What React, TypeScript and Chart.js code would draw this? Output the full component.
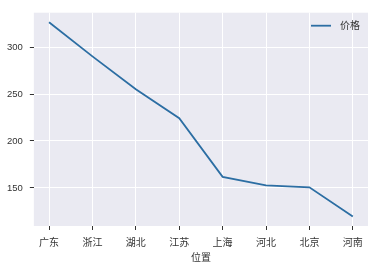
import React, { useEffect, useRef } from "react";
import { Chart, registerables } from "chart.js";

Chart.register(...registerables);

const categories = ["广东", "浙江", "湖北", "江苏", "上海", "河北", "北京", "河南"];
const prices = [326.5, 290.2, 255.2, 224.2, 161.8, 152.7, 150.6, 119.6];
const yTicks = [150, 200, 250, 300];
const seriesName = "价格";
const xTitle = "位置";

const LINE = "#2c6ea3";
const FONT = "'Noto Sans CJK SC', 'DejaVu Sans', sans-serif";

const insideLegend = {
  id: "insideLegend",
  afterDatasetsDraw(chart: any) {
    const { ctx, chartArea } = chart;
    const x0 = chartArea.right - 57;
    const y0 = chartArea.top + 13;
    ctx.save();
    ctx.strokeStyle = LINE;
    ctx.lineWidth = 1.8;
    ctx.beginPath();
    ctx.moveTo(x0, y0);
    ctx.lineTo(x0 + 20, y0);
    ctx.stroke();
    ctx.fillStyle = "#333";
    ctx.font = `10px ${FONT}`;
    ctx.textBaseline = "middle";
    ctx.fillText(seriesName, x0 + 29, y0);
    ctx.restore();
  },
};

const bgPlugin = {
  id: "plotBg",
  beforeDraw(chart: any) {
    const { ctx, chartArea } = chart;
    ctx.save();
    ctx.fillStyle = "#eaeaf2";
    ctx.fillRect(chartArea.left, chartArea.top, chartArea.right - chartArea.left, chartArea.bottom - chartArea.top);
    ctx.restore();
  },
};

export default function App() {
  const ref = useRef<HTMLCanvasElement>(null);
  useEffect(() => {
    document.body.style.margin = "0";
    const chart = new Chart(ref.current!, {
      type: "line",
      data: {
        datasets: [
          {
            label: seriesName,
            data: prices.map((v, i) => ({ x: i, y: v })),
            borderColor: LINE,
            borderWidth: 1.8,
            pointRadius: 0,
            tension: 0,
          },
        ],
      },
      options: {
        animation: false,
        responsive: false,
        layout: { padding: { top: 9, right: 10, left: 0, bottom: 5 } },
        plugins: { legend: { display: false }, tooltip: { enabled: false } },
        scales: {
          x: {
            type: "linear",
            min: -0.35,
            max: categories.length - 1 + 0.35,
            afterBuildTicks: (axis: any) => {
              axis.ticks = categories.map((_, i) => ({ value: i }));
            },
            grid: { color: "#ffffff", lineWidth: 1, tickColor: "#333", tickLength: 4, drawTicks: true },
            border: { display: false },
            ticks: {
              callback: (v: any) => categories[v as number] ?? "",
              color: "#333",
              font: { family: FONT, size: 10 },
              padding: 6,
              maxRotation: 0,
              autoSkip: false,
            },
            title: {
              display: true,
              text: xTitle,
              color: "#333",
              font: { family: FONT, size: 10 },
              padding: { top: -3, bottom: 0 },
            },
          },
          y: {
            type: "linear",
            min: 109.4,
            max: 336.7,
            afterBuildTicks: (axis: any) => {
              axis.ticks = yTicks.map((v) => ({ value: v }));
            },
            grid: { color: "#ffffff", lineWidth: 1, tickColor: "#333", tickLength: 4, drawTicks: true },
            border: { display: false },
            ticks: {
              color: "#333",
              font: { family: "'Liberation Sans', Arial, sans-serif", size: 9.5 },
              padding: 7,
            },
          },
        },
      },
      plugins: [bgPlugin, insideLegend],
    });
    return () => chart.destroy();
  }, []);
  return <canvas ref={ref} width={378} height={268} style={{ display: "block" }} />;
}
